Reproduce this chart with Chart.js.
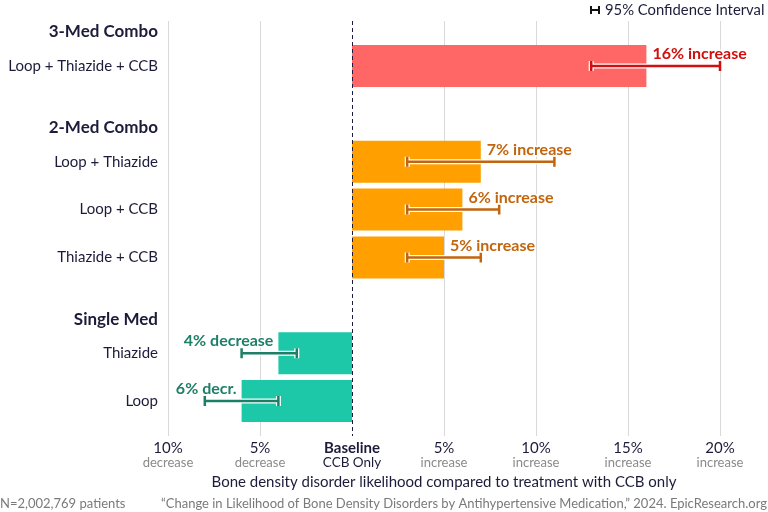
<!DOCTYPE html>
<html><head><meta charset="utf-8">
<script src="https://cdn.jsdelivr.net/npm/chart.js@4"></script>
<style>html,body{margin:0;padding:0;background:#fff}#wrap{width:768px;height:512px;position:relative}</style>
</head><body><div id="wrap"><canvas id="c"></canvas></div>
<script>
// ---- data ----
const groupNames = ["3-Med Combo", "2-Med Combo", "Single Med"];
const categories = ["Loop + Thiazide + CCB", "Loop + Thiazide", "Loop + CCB", "Thiazide + CCB", "Thiazide", "Loop"];
const categoryGroup = [0, 1, 1, 1, 2, 2];
const changePct = [16, 7, 6, 5, -4, -6];
const ciLow = [13, 3, 3, 3, -6, -8];
const ciHigh = [20, 11, 8, 7, -3, -4];
const valueLabels = ["16% increase", "7% increase", "6% increase", "5% increase", "4% decrease", "6% decr."];
const tickValues = [-10, -5, 0, 5, 10, 15, 20];
const tickMain = ["10%", "5%", "Baseline", "5%", "10%", "15%", "20%"];
const tickSub = ["decrease", "decrease", "CCB Only", "increase", "increase", "increase", "increase"];

// ---- styles ----
const barColors = ["#ff6666", "#ffa000", "#1dc8a9"];
const labelColors = ["#d10f0f", "#c2650c", "#1e7f67"];
const FONT = "Lato, 'Noto Sans', sans-serif";
const TXT = "#1c1c3a";

// build slots: a spacer slot before every group except the first
const slotLabels = [], slotValues = [], slotItem = [];
categories.forEach((c, i) => {
  if (i > 0 && categoryGroup[i] !== categoryGroup[i - 1]) {
    slotLabels.push(""); slotValues.push(null); slotItem.push(-1);
  }
  slotLabels.push(c); slotValues.push(changePct[i]); slotItem.push(i);
});
const slotColors = slotItem.map(i => i < 0 ? "rgba(0,0,0,0)" : barColors[categoryGroup[i]]);

const overlay = {
  id: 'overlay',
  beforeDatasetsDraw(chart) {
    const ctx = chart.ctx, xs = chart.scales.x;
    ctx.save();
    ctx.strokeStyle = "#d9d9d9"; ctx.lineWidth = 1;
    tickValues.forEach(v => {
      if (v === 0) return;
      const x = Math.round(xs.getPixelForValue(v)) + 0.5;
      ctx.beginPath(); ctx.moveTo(x, 21); ctx.lineTo(x, 436); ctx.stroke();
    });
    ctx.restore();
  },
  afterDatasetsDraw(chart) {
    const ctx = chart.ctx, xs = chart.scales.x;
    const meta = chart.getDatasetMeta(0);
    ctx.save();
    // baseline dashed
    const x0 = Math.round(xs.getPixelForValue(0)) + 0.5;
    ctx.strokeStyle = "#1c1c40"; ctx.lineWidth = 1; ctx.setLineDash([4, 3]);
    ctx.beginPath(); ctx.moveTo(x0, 21); ctx.lineTo(x0, 436); ctx.stroke();
    ctx.setLineDash([]);
    // whiskers + value labels
    slotItem.forEach((it, s) => {
      if (it < 0) return;
      const y = meta.data[s].y;
      const col = labelColors[categoryGroup[it]];
      const xl = xs.getPixelForValue(ciLow[it]), xh = xs.getPixelForValue(ciHigh[it]);
      const drawW = (w, c) => {
        ctx.strokeStyle = c; ctx.lineWidth = w; ctx.lineCap = "butt";
        ctx.beginPath();
        ctx.moveTo(xl, y); ctx.lineTo(xh, y);
        ctx.moveTo(xl, y - 5); ctx.lineTo(xl, y + 5);
        ctx.moveTo(xh, y - 5); ctx.lineTo(xh, y + 5);
        ctx.stroke();
      };
      drawW(5, "#ffffff");
      drawW(2.5, col);
      // label
      const xe = xs.getPixelForValue(changePct[it]);
      ctx.font = "bold 16px " + FONT;
      ctx.textBaseline = "middle";
      const pos = changePct[it] >= 0;
      ctx.textAlign = pos ? "left" : "right";
      const tx = pos ? xe + 6 : xe - 5;
      ctx.lineWidth = 3; ctx.strokeStyle = "#fff"; ctx.lineJoin = "round";
      ctx.strokeText(valueLabels[it], tx, y - 12);
      ctx.fillStyle = col;
      ctx.fillText(valueLabels[it], tx, y - 12);
    });
    // group headers
    ctx.font = "bold 17px " + FONT; ctx.fillStyle = TXT;
    ctx.textAlign = "right"; ctx.textBaseline = "middle";
    groupNames.forEach((g, gi) => {
      const first = categoryGroup.indexOf(gi);
      const s = slotItem.indexOf(first);
      ctx.fillText(g, 158, meta.data[s].y - 34);
    });
    // tick sub-labels
    ctx.textAlign = "center";
    tickValues.forEach((v, i) => {
      const x = xs.getPixelForValue(v);
      if (v === 0) { ctx.font = "13.5px " + FONT; ctx.fillStyle = TXT; }
      else { ctx.font = "13px " + FONT; ctx.fillStyle = "#8a8a8a"; }
      ctx.fillText(tickSub[i], x, 463);
    });
    // legend
    ctx.strokeStyle = "#111"; ctx.lineWidth = 2;
    ctx.beginPath();
    ctx.moveTo(591, 10); ctx.lineTo(599, 10);
    ctx.moveTo(591, 6); ctx.lineTo(591, 14);
    ctx.moveTo(599, 6); ctx.lineTo(599, 14);
    ctx.stroke();
    ctx.font = "14.8px " + FONT; ctx.fillStyle = TXT; ctx.textAlign = "left";
    ctx.fillText("95% Confidence Interval", 605, 10);
    // footer
    ctx.font = "13px " + FONT; ctx.fillStyle = "#7a7a7a";
    ctx.fillText("N=2,002,769 patients", 0, 504);
    ctx.textAlign = "right";
    ctx.fillText("\u201cChange in Likelihood of Bone Density Disorders by Antihypertensive Medication,\u201d 2024. EpicResearch.org", 767, 504);
    ctx.restore();
  }
};

new Chart(document.getElementById('c'), {
  type: 'bar',
  data: {
    labels: slotLabels,
    datasets: [{
      data: slotValues,
      backgroundColor: slotColors,
      borderWidth: 0,
      categoryPercentage: 1,
      barPercentage: 0.877
    }]
  },
  options: {
    indexAxis: 'y',
    responsive: true,
    maintainAspectRatio: false,
    animation: false,
    layout: { padding: { top: 42, bottom: 20, left: 0, right: 48 } },
    plugins: { legend: { display: false }, tooltip: { enabled: false } },
    scales: {
      x: {
        type: 'linear', min: -10, max: 20,
        grid: { display: false, drawTicks: false },
        border: { display: false },
        ticks: {
          stepSize: 5, padding: 14, maxRotation: 0, autoSkip: false,
          color: TXT,
          font: (c) => ({ family: FONT, size: 15, weight: (c.tick && c.tick.value === 0) ? 'bold' : 'normal' }),
          callback: (v) => { const i = tickValues.indexOf(v); return i < 0 ? '' : tickMain[i]; }
        },
        title: {
          display: true,
          text: "Bone density disorder likelihood compared to treatment with CCB only",
          color: TXT, font: { family: FONT, size: 15 },
          padding: { top: 0, bottom: 1 }
        },
        afterFit: (s) => { s.height = 67; }
      },
      y: {
        type: 'category',
        grid: { display: false, drawTicks: false },
        border: { display: false },
        ticks: { color: TXT, font: { family: FONT, size: 15 }, padding: 10, autoSkip: false },
        afterFit: (s) => { s.height = s.height; s.width = 168; }
      }
    }
  },
  plugins: [overlay]
});
</script>
</body></html>
